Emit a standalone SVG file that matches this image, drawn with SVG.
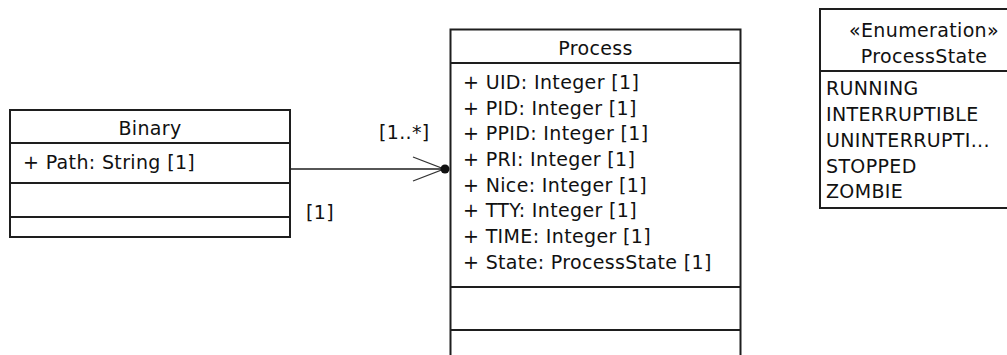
<svg xmlns="http://www.w3.org/2000/svg" width="1007" height="355" viewBox="0 0 1007 355">
  <style>
    .box { fill: #ffffff; stroke: #1e1e1e; stroke-width: 2; }
    .sep { stroke: #1e1e1e; stroke-width: 2; }
    .t { font-family: "DejaVu Sans", "Liberation Sans", sans-serif; font-size: 19px; letter-spacing: 0.35px; fill: #111111; }
    .c { text-anchor: middle; }
    .edge { stroke: #1e1e1e; stroke-width: 1.6; fill: none; }
    .head { stroke: #333333; stroke-width: 1.3; fill: none; }
  </style>
  <rect width="1007" height="355" fill="#ffffff"/>

  <!-- Binary class -->
  <g id="binary">
    <rect class="box" x="10" y="110" width="280" height="127"/>
    <line class="sep" x1="10" y1="143" x2="290" y2="143"/>
    <line class="sep" x1="10" y1="183" x2="290" y2="183"/>
    <line class="sep" x1="10" y1="217" x2="290" y2="217"/>
    <text class="t c" x="150" y="135">Binary</text>
    <text class="t" x="23" y="169">+ Path: String [1]</text>
  </g>

  <!-- Process class -->
  <g id="process">
    <rect class="box" x="450.5" y="29.5" width="290" height="340"/>
    <line class="sep" x1="450.5" y1="63" x2="740.5" y2="63"/>
    <line class="sep" x1="450.5" y1="287" x2="740.5" y2="287"/>
    <line class="sep" x1="450.5" y1="330" x2="740.5" y2="330"/>
    <text class="t c" x="595.5" y="55">Process</text>
    <text class="t" x="463" y="89">+ UID: Integer [1]</text>
    <text class="t" x="463" y="115">+ PID: Integer [1]</text>
    <text class="t" x="463" y="140">+ PPID: Integer [1]</text>
    <text class="t" x="463" y="166">+ PRI: Integer [1]</text>
    <text class="t" x="463" y="192">+ Nice: Integer [1]</text>
    <text class="t" x="463" y="217">+ TTY: Integer [1]</text>
    <text class="t" x="463" y="243">+ TIME: Integer [1]</text>
    <text class="t" x="463" y="269">+ State: ProcessState [1]</text>
  </g>

  <!-- ProcessState enumeration -->
  <g id="processstate">
    <rect class="box" x="820" y="9" width="200" height="199"/>
    <line class="sep" x1="820" y1="71" x2="1010" y2="71"/>
    <text class="t c" x="924" y="37">«Enumeration»</text>
    <text class="t c" x="924" y="63">ProcessState</text>
    <text class="t" x="826" y="95">RUNNING</text>
    <text class="t" x="826" y="121">INTERRUPTIBLE</text>
    <text class="t" x="826" y="147">UNINTERRUPTI...</text>
    <text class="t" x="826" y="173">STOPPED</text>
    <text class="t" x="826" y="198">ZOMBIE</text>
  </g>

  <!-- Binary to Process association -->
  <g id="connectors">
    <line class="edge" x1="290" y1="169" x2="444" y2="169"/>
    <polyline class="head" points="413,157 444,169 413,181"/>
    <circle cx="445" cy="169" r="4.5" fill="#111111"/>
    <text class="t" x="379" y="139">[1..*]</text>
    <text class="t" x="306" y="219">[1]</text>
  </g>
</svg>
